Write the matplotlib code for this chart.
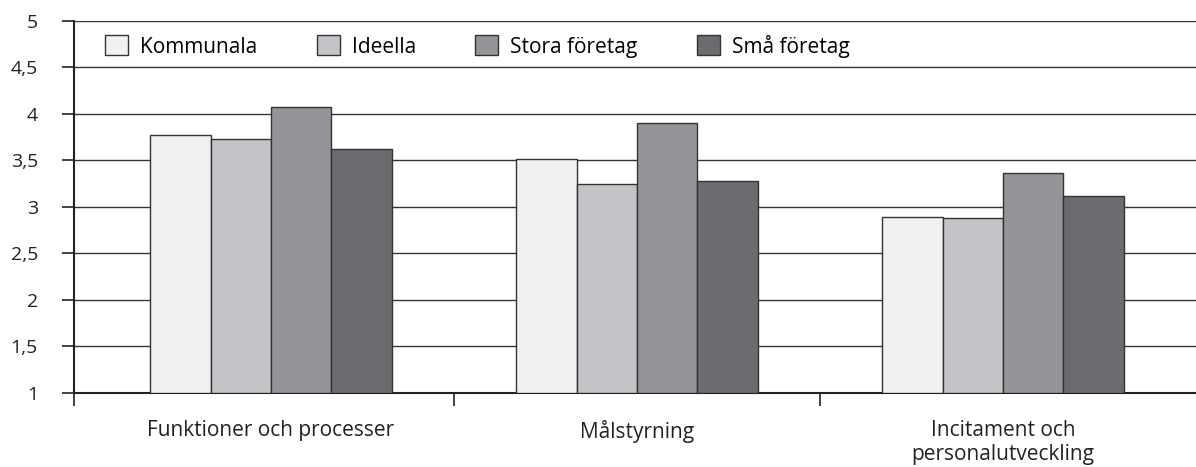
import numpy as np
import matplotlib
matplotlib.use("Agg")
from matplotlib import pyplot as plt

categories = ["Funktioner och processer", "Målstyrning", "Incitament och\npersonalutveckling"]
series = ["Kommunala", "Ideella", "Stora företag", "Små företag"]
kommunala = [3.77, 3.51, 2.89]
ideella = [3.73, 3.25, 2.88]
stora = [4.07, 3.90, 3.36]
sma = [3.62, 3.28, 3.12]
yticks = [1, 1.5, 2, 2.5, 3, 3.5, 4, 4.5, 5]
ytick_labels = ["1", "1,5", "2", "2,5", "3", "3,5", "4", "4,5", "5"]

colors = ["#f0f1f3", "#c3c4c8", "#949599", "#6b6c70"]


def main():
    plt.rcParams["font.family"] = ["Open Sans", "DejaVu Sans"]
    fig = plt.figure(figsize=(11.96, 4.67), dpi=100)
    ax = fig.add_axes([74 / 1196, 1 - 392.7 / 467, 1 - 74 / 1196, (392.7 - 21) / 467])

    x = np.arange(len(categories))
    width = 0.165
    values = [kommunala, ideella, stora, sma]
    for i, (name, vals) in enumerate(zip(series, values)):
        ax.bar(x + (i - 1.5) * width, np.array(vals) - 1, width, bottom=1,
               color=colors[i], edgecolor="#333333", linewidth=1.0,
               label=name, zorder=3)

    ax.set_ylim(1, 5)
    ax.set_xlim(-0.538, 2.527)
    ax.set_yticks(yticks)
    ax.set_yticklabels(ytick_labels, fontsize=14, color="#222222")
    ax.yaxis.grid(True, color="#333333", linewidth=1.0, zorder=0)
    ax.tick_params(axis="y", length=9, width=1.2, color="#222222", pad=17)

    ax.set_xticks([-0.538, 0.5, 1.5])
    ax.set_xticklabels([])
    ax.tick_params(axis="x", which="major", length=9, width=1.2, color="#222222")
    ax.set_xticks(x, minor=True)
    ax.set_xticklabels(categories, minor=True, fontsize=15, color="#222222",
                       linespacing=1.15)
    ax.tick_params(axis="x", which="minor", length=0, pad=20)

    for side in ["top", "right"]:
        ax.spines[side].set_visible(False)
    for side in ["left", "bottom"]:
        ax.spines[side].set_color("#222222")
        ax.spines[side].set_linewidth(1.5)

    leg = ax.legend(loc="upper left", bbox_to_anchor=(0.025, 0.972), ncol=4,
                    frameon=True, fontsize=15, handlelength=1.1, handleheight=1.1,
                    handletextpad=0.58, columnspacing=2.85, borderpad=0.15,
                    borderaxespad=0)
    leg.get_frame().set_edgecolor("none")
    leg.get_frame().set_facecolor("white")
    leg.get_frame().set_alpha(1)
    for h in leg.legend_handles:
        h.set_edgecolor("#333333")
        h.set_linewidth(1.0)

    fig.savefig("out.png", dpi=100)


if __name__ == "__main__":
    main()
